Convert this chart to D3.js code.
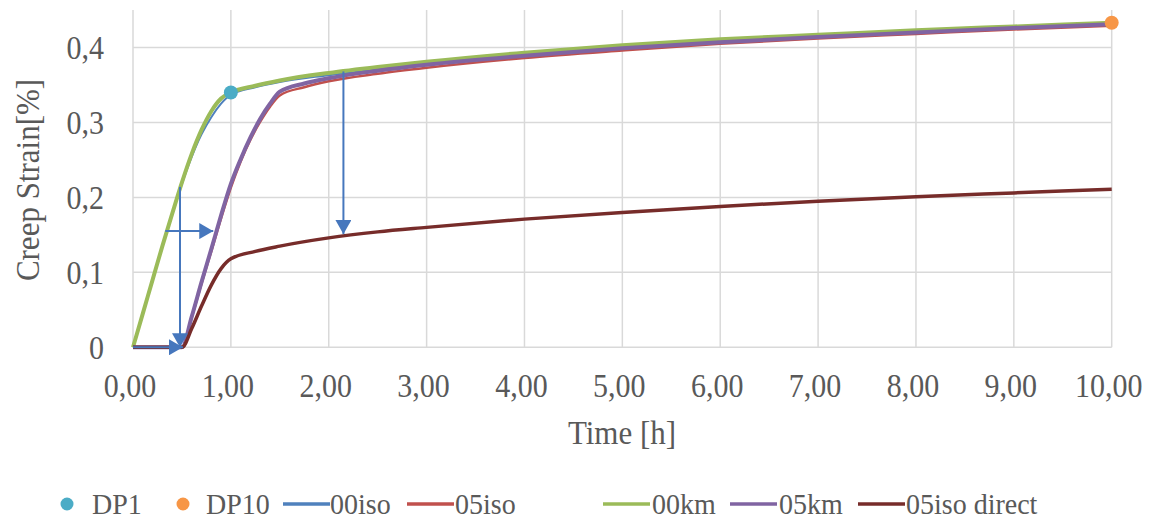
<!DOCTYPE html>
<html>
<head>
<meta charset="utf-8">
<script src="https://cdnjs.cloudflare.com/ajax/libs/d3/7.8.5/d3.min.js"></script>
<style>
  body { margin: 0; background: #fff; }
  svg { display: block; font-family: "Liberation Serif", "Times New Roman", serif; }
</style>
</head>
<body>
<div class="graphic"></div>
<script>
// time values (hours) shared by the curves
var time00 = [0, 0.1, 0.2, 0.3, 0.4, 0.5, 0.6, 0.7, 0.8, 0.9, 1.0, 1.25, 1.5, 2, 2.5, 3, 4, 5, 6, 7, 8, 9, 10];
var time05 = [0, 0.5, 0.6, 0.7, 0.8, 0.9, 1.0, 1.1, 1.2, 1.3, 1.4, 1.5, 1.75, 2, 2.5, 3, 4, 5, 6, 7, 8, 9, 10];
var timeDirect = [0, 0.5, 0.6, 0.7, 0.8, 0.9, 1.0, 1.25, 1.5, 2, 2.5, 3, 4, 5, 6, 7, 8, 9, 10];

// creep strain [%]
var iso00 = [0, 0.045, 0.09, 0.134, 0.177, 0.218, 0.254, 0.284, 0.307, 0.325, 0.337, 0.347, 0.354, 0.363, 0.371, 0.378, 0.390, 0.400, 0.408, 0.415, 0.421, 0.426, 0.431];
var km00  = [0, 0.045, 0.09, 0.135, 0.178, 0.22, 0.258, 0.29, 0.315, 0.332, 0.340, 0.349, 0.356, 0.366, 0.374, 0.381, 0.393, 0.403, 0.411, 0.417, 0.423, 0.428, 0.433];
var iso05 = [0, 0, 0.04, 0.085, 0.128, 0.172, 0.213, 0.248, 0.277, 0.301, 0.321, 0.336, 0.347, 0.355, 0.365, 0.373, 0.386, 0.396, 0.405, 0.412, 0.418, 0.424, 0.429];
var km05  = [0, 0, 0.041, 0.087, 0.131, 0.176, 0.218, 0.251, 0.28, 0.305, 0.325, 0.341, 0.352, 0.359, 0.369, 0.377, 0.389, 0.399, 0.407, 0.414, 0.420, 0.426, 0.431];
var isoDirect = [0, 0, 0.025, 0.055, 0.083, 0.105, 0.118, 0.128, 0.135, 0.146, 0.154, 0.160, 0.171, 0.180, 0.188, 0.195, 0.201, 0.206, 0.211];

// data points
var dp1 = [1.0, 0.34];
var dp10 = [10.0, 0.433];

// annotation arrows [t0, s0, t1, s1] (tip at the end)
var arrows = [
  [0.0, 0.0, 0.51, 0.0],
  [0.48, 0.214, 0.48, 0.0],
  [0.33, 0.155, 0.82, 0.155],
  [2.15, 0.368, 2.15, 0.151]
];

var xTicks = [0, 1, 2, 3, 4, 5, 6, 7, 8, 9, 10];
var yTicks = [0, 0.1, 0.2, 0.3, 0.4];

var legendNames = ["DP1", "DP10", "00iso", "05iso", "00km", "05km", "05iso direct"];

var W = 1151, H = 520;
var margin = {top: 10, right: 40, bottom: 173, left: 133};
var width = 1111.7 - margin.left,
    height = 347.3 - margin.top;

var textColor = "#595959", gridColor = "#d9d9d9", arrowColor = "#4677bd";
var stretch = 1.12; // glyphs in the original are a bit taller than wide

var svg = d3.select(".graphic").append("svg")
  .attr("width", W).attr("height", H);

svg.append("defs").append("marker")
  .attr("id", "head")
  .attr("markerUnits", "userSpaceOnUse")
  .attr("viewBox", "0 0 14 16")
  .attr("refX", 14).attr("refY", 8)
  .attr("markerWidth", 14).attr("markerHeight", 16)
  .attr("orient", "auto")
  .append("path").attr("d", "M0,0 L14,8 L0,16 Z").attr("fill", arrowColor);

var g = svg.append("g").attr("transform", "translate(" + margin.left + "," + margin.top + ")");

var x = d3.scaleLinear().domain([0, 10]).range([0, width]);
var y = d3.scaleLinear().domain([0, 0.45]).range([height, 0]);

// places a stretched text at px,py
function label(parent, px, py, txt, size, anchor, rot, sy) {
  return parent.append("text")
    .attr("transform", "translate(" + px + "," + py + ")" + (rot ? " rotate(" + rot + ")" : "") + " scale(1," + (sy || stretch) + ")")
    .attr("text-anchor", anchor).attr("dy", "0.35em")
    .attr("fill", textColor).attr("font-size", size)
    .text(txt);
}

// grid
g.selectAll(".vgrid").data(xTicks).enter().append("line")
  .attr("x1", d => x(d)).attr("x2", d => x(d))
  .attr("y1", 0).attr("y2", height)
  .attr("stroke", gridColor).attr("stroke-width", 1.5);
g.selectAll(".hgrid").data(yTicks).enter().append("line")
  .attr("x1", 0).attr("x2", width)
  .attr("y1", d => y(d)).attr("y2", d => y(d))
  .attr("stroke", gridColor).attr("stroke-width", 1.5);

// tick labels
xTicks.forEach(function(d) {
  label(g, x(d) - 3, height + 38, d3.format(".2f")(d).replace(".", ","), 30, "middle");
});
yTicks.forEach(function(d) {
  label(g, -29, y(d), d === 0 ? "0" : d3.format(".1f")(d).replace(".", ","), 30, "end");
});

label(svg, 622, 432, "Time [h]", 31, "middle");
label(svg, 27, 180, "Creep Strain[%]", 31, "middle", -90);

// curves
var series = [
  {t: time00, v: iso00, color: "#4f81bd", w: 2},
  {t: time05, v: iso05, color: "#c0504d", w: 2.5},
  {t: time00, v: km00, color: "#9bbb59", w: 4},
  {t: time05, v: km05, color: "#8064a2", w: 4},
  {t: timeDirect, v: isoDirect, color: "#772c2a", w: 3.5}
];
var line = d3.line().x(d => x(d[0])).y(d => y(d[1])).curve(d3.curveMonotoneX);
series.forEach(function(s) {
  g.append("path")
    .datum(d3.zip(s.t, s.v))
    .attr("d", line)
    .attr("fill", "none")
    .attr("stroke", s.color)
    .attr("stroke-width", s.w)
    .attr("stroke-linejoin", "round");
});

// arrows
g.selectAll(".arrow").data(arrows).enter().append("line")
  .attr("x1", d => x(d[0])).attr("y1", d => y(d[1]))
  .attr("x2", d => x(d[2])).attr("y2", d => y(d[3]))
  .attr("stroke", arrowColor).attr("stroke-width", 2)
  .attr("marker-end", "url(#head)");

// data points
g.append("circle").attr("cx", x(dp1[0])).attr("cy", y(dp1[1])).attr("r", 7).attr("fill", "#4bacc6");
g.append("circle").attr("cx", x(dp10[0])).attr("cy", y(dp10[1])).attr("r", 7).attr("fill", "#f79646");

// legend
var legColors = ["#4bacc6", "#f79646", "#4f81bd", "#c0504d", "#9bbb59", "#8064a2", "#772c2a"];
var legX = [67, 183, 283, 407, 603, 730, 858];
var legTextX = [92, 206, 330, 455, 652, 779, 906];
var ly = 503;
var leg = svg.append("g");
legendNames.forEach(function(name, i) {
  if (i < 2) {
    leg.append("circle").attr("cx", legX[i]).attr("cy", ly + 1).attr("r", 6.5).attr("fill", legColors[i]);
  } else {
    leg.append("line").attr("x1", legX[i]).attr("x2", legX[i] + 47)
      .attr("y1", ly + 1).attr("y2", ly + 1)
      .attr("stroke", legColors[i]).attr("stroke-width", 3.5);
  }
  label(leg, legTextX[i], ly, name, 28, "start", 0, 1.08);
});
</script>
</body>
</html>
